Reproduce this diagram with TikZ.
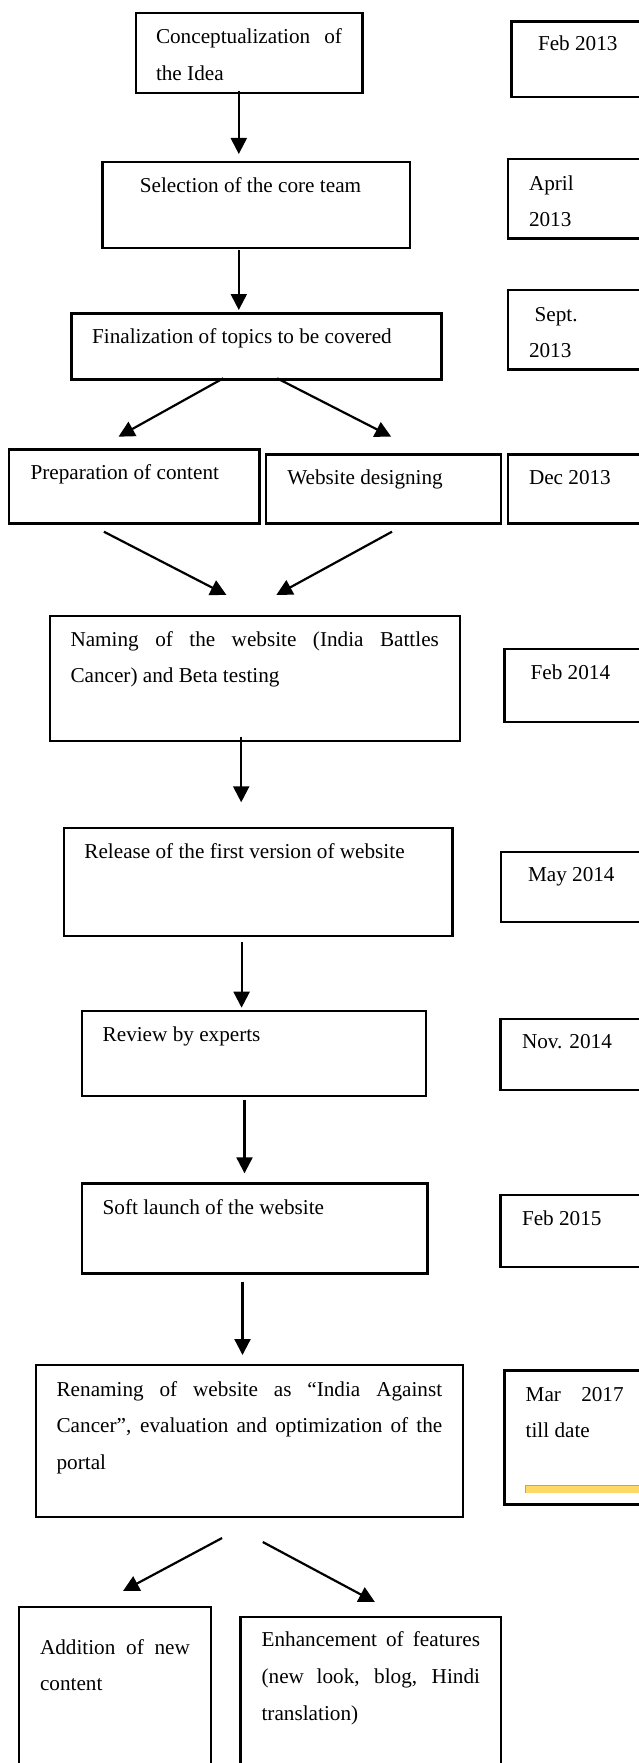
\documentclass[tikz,border=0pt]{standalone}
\usepackage{fontspec}
\setmainfont{Liberation Serif}
\usetikzlibrary{arrows.meta}
\definecolor{barfill}{HTML}{FFD966}
\hyphenpenalty=10000
\exhyphenpenalty=10000
\tikzset{
  stage/.style={draw, line width=2.4pt, rectangle, anchor=base west,
    inner ysep=0pt, outer sep=0pt, align=justify,
    font=\fontsize{21.2}{36.7}\selectfont},
  flow/.style={line width=2.2pt, -{Triangle[width=16pt,length=16pt]}}
}
\begin{document}
\begin{tikzpicture}[x=1pt,y=-1pt]
      \useasboundingbox (0,0) rectangle (639,1763);
      \clip (0,0) rectangle (639,1763);
      % steps
      \path
        (135.7,44) node[stage, inner xsep=20.3pt, text width=186pt, text height=30.7pt, text depth=49pt] (idea)
          {Conceptualization\ \ of\linebreak the Idea}
        (102.3,192.7) node[stage, inner xsep=37.5pt, text width=232.9pt, text height=30.4pt, text depth=55pt] (team)
          {Selection of the core team}
        (71.3,343.3) node[stage, inner xsep=20.8pt, text width=328.4pt, text height=30pt, text depth=36pt] (topics)
          {Finalization of topics to be covered}
        (9,479.3) node[stage, inner xsep=21.6pt, text width=207.4pt, text height=30pt, text depth=44pt] (content)
          {Preparation of content}
        (265.7,484) node[stage, inner xsep=21.6pt, text width=192.3pt, text height=29.7pt, text depth=39.3pt] (design)
          {Website designing}
        (49.7,646) node[stage, inner xsep=20.8pt, text width=368.4pt, text height=30.3pt, text depth=94.7pt] (naming)
          {Naming of the website (India Battles\linebreak Cancer) and Beta testing}
        (64,858.3) node[stage, inner xsep=20.4pt, text width=347.5pt, text height=30.6pt, text depth=77.7pt] (release)
          {Release of the first version of website}
        (81.9,1041.7) node[stage, inner xsep=20.8pt, text width=302.3pt, text height=30.7pt, text depth=54.3pt] (review)
          {Review by experts}
        (81.9,1214) node[stage, inner xsep=20.8pt, text width=304pt, text height=30.7pt, text depth=59.3pt] (launch)
          {Soft launch of the website}
        (35.9,1396) node[stage, inner xsep=20.7pt, text width=385.6pt, text height=31pt, text depth=121pt] (renaming)
          {Renaming of website as “India Against\linebreak Cancer”, evaluation and optimization of the\linebreak portal}
        (19.2,1654) node[stage, inner xsep=20.8pt, text width=149.9pt, text height=46.8pt, text depth=150pt] (addition)
          {Addition of new\linebreak content}
        (240.4,1646.7) node[stage, inner xsep=21.2pt, text width=218.4pt, text height=29.7pt, text depth=150pt] (features)
          {Enhancement of features\linebreak (new look, blog, Hindi\linebreak translation)};
      % dates
      \path
        (511.4,50.7) node[stage, inner xsep=26.6pt, text width=100pt, text height=29pt, text depth=46.6pt] (feb13) {Feb 2013}
        (507.7,190) node[stage, inner xsep=21.3pt, text width=100pt, text height=30.7pt, text depth=48.3pt] (apr13) {April\newline 2013}
        (507.7,321) node[stage, inner xsep=21.3pt, text width=100pt, text height=31pt, text depth=48.3pt] (sep13) {\hspace*{5.6pt}Sept.\newline 2013}
        (507.7,484) node[stage, inner xsep=21.3pt, text width=100pt, text height=29.7pt, text depth=39.3pt] (dec13) {Dec 2013}
        (504.5,679.3) node[stage, inner xsep=26.1pt, text width=100pt, text height=30.3pt, text depth=42.4pt] (feb14) {Feb 2014}
        (500.8,881.7) node[stage, inner xsep=27.2pt, text width=100pt, text height=30pt, text depth=40pt] (may14) {May 2014}
        (500.4,1048.3) node[stage, inner xsep=21.6pt, text width=100pt, text height=29.6pt, text depth=41.7pt] (nov14) {Nov. 2014}
        (500.4,1225.7) node[stage, inner xsep=21.6pt, text width=100pt, text height=30.7pt, text depth=41pt] (feb15) {Feb 2015}
        (504.5,1401) node[stage, inner xsep=21.2pt, text width=98pt, text height=30.7pt, text depth=103.3pt] (mar17) {Mar 2017\linebreak till date};
      \fill[barfill] (525.7,1485) rectangle (639,1492.7);
      \draw[gray!70, line width=0.8pt] (525.7,1492.7) |- (639,1485);
      % arrow ends
      \coordinate (a1) at (238.8,91);   \coordinate (b1) at (238.8,154);
      \coordinate (a2) at (238.8,250);  \coordinate (b2) at (238.8,310);
      \coordinate (a3) at (223.3,378.3); \coordinate (b3) at (118.5,436.7);
      \coordinate (a4) at (277.1,378.3); \coordinate (b4) at (391.2,436.7);
      \coordinate (a5) at (103.9,531.7); \coordinate (b5) at (226.5,595);
      \coordinate (a6) at (392,531.7);   \coordinate (b6) at (276.3,595);
      \coordinate (a7) at (241.2,736.7); \coordinate (b7) at (241.2,802.3);
      \coordinate (a8) at (241.6,942.3); \coordinate (b8) at (241.6,1007.7);
      \coordinate (a9) at (244.5,1100);  \coordinate (b9) at (244.5,1173.3);
      \coordinate (a10) at (242.5,1281.7); \coordinate (b10) at (242.5,1355);
      \coordinate (a11) at (222.1,1538); \coordinate (b11) at (123,1591);
      \coordinate (a12) at (262.8,1542); \coordinate (b12) at (374.9,1602);
      \begin{scope}[flow]
        \draw (a1) to (b1);
        \draw (a2) to (b2);
        \draw (a3) to (b3);
        \draw (a4) to (b4);
        \draw (a5) to (b5);
        \draw (a6) to (b6);
        \draw (a7) to (b7);
        \draw (a8) to (b8);
        \draw (a9) to (b9);
        \draw (a10) to (b10);
        \draw (a11) to (b11);
        \draw (a12) to (b12);
      \end{scope}
    \end{tikzpicture}
\end{document}
